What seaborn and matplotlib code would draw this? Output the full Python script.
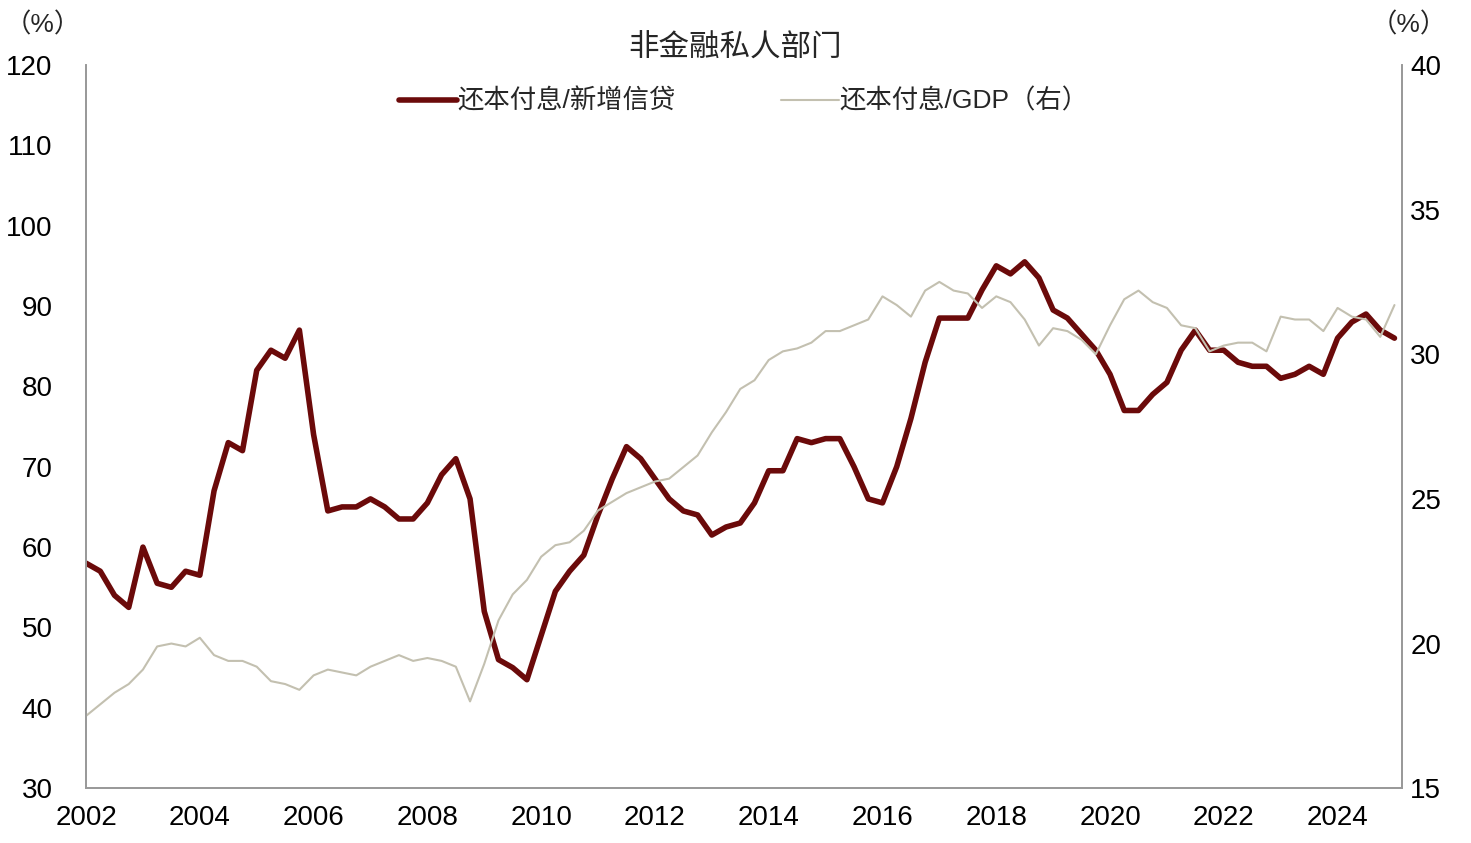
import matplotlib
matplotlib.use("Agg")
import matplotlib.pyplot as plt
import numpy as np
import seaborn as sns

sns.set_theme(style="white")
plt.rcParams['font.family'] = ['Liberation Sans', 'Noto Sans CJK SC']

# 季度数据
start_year = 2002.0
repay_credit = [58, 57, 54, 52.5, 60, 55.5, 55, 57, 56.5, 67, 73, 72, 82, 84.5, 83.5, 87,
                74, 64.5, 65, 65, 66, 65, 63.5, 63.5, 65.5, 69, 71, 66, 52, 46, 45, 43.5,
                49, 54.5, 57, 59, 64, 68.5, 72.5, 71, 68.5, 66, 64.5, 64, 61.5, 62.5, 63, 65.5,
                69.5, 69.5, 73.5, 73, 73.5, 73.5, 70, 66, 65.5, 70, 76, 83, 88.5, 88.5, 88.5, 92,
                95, 94, 95.5, 93.5, 89.5, 88.5, 86.5, 84.5, 81.5, 77, 77, 79, 80.5, 84.5, 87, 84.5,
                84.5, 83, 82.5, 82.5, 81, 81.5, 82.5, 81.5, 86, 88, 89, 87, 86]
repay_gdp = [17.5, 17.9, 18.3, 18.6, 19.1, 19.9, 20.0, 19.9, 20.2, 19.6, 19.4, 19.4, 19.2, 18.7, 18.6, 18.4,
             18.9, 19.1, 19.0, 18.9, 19.2, 19.4, 19.6, 19.4, 19.5, 19.4, 19.2, 18.0, 19.3, 20.8, 21.7, 22.2,
             23.0, 23.4, 23.5, 23.9, 24.6, 24.9, 25.2, 25.4, 25.6, 25.7, 26.1, 26.5, 27.3, 28.0, 28.8, 29.1,
             29.8, 30.1, 30.2, 30.4, 30.8, 30.8, 31.0, 31.2, 32.0, 31.7, 31.3, 32.2, 32.5, 32.2, 32.1, 31.6,
             32.0, 31.8, 31.2, 30.3, 30.9, 30.8, 30.5, 30.0, 31.0, 31.9, 32.2, 31.8, 31.6, 31.0, 30.9, 30.1,
             30.3, 30.4, 30.4, 30.1, 31.3, 31.2, 31.2, 30.8, 31.6, 31.3, 31.2, 30.6, 31.7]
t = start_year + np.arange(len(repay_credit)) * 0.25

fig = plt.figure(figsize=(14.71, 8.43), dpi=100)
ax = fig.add_axes([0.0585, 0.065, 0.8945, 0.858])
ax2 = ax.twinx()

sns.lineplot(x=t, y=repay_credit, ax=ax, color='#6b0a0a', linewidth=4, label='还本付息/新增信贷', legend=False)
sns.lineplot(x=t, y=repay_gdp, ax=ax2, color='#c3c0b0', linewidth=1.5, label='还本付息/GDP（右）', legend=False)
for line in ax.get_lines() + ax2.get_lines():
    line.set_solid_joinstyle('round')

ax.set_xlim(2002, 2025.13)
ax.set_ylim(30, 120)
ax2.set_ylim(15, 40)
ax.set_xticks(range(2002, 2025, 2))
ax.set_yticks(range(30, 121, 10))
ax2.set_yticks(range(15, 41, 5))
for a in (ax, ax2):
    a.tick_params(labelsize=20, length=0, labelcolor='black')
    a.grid(False)
    a.spines['top'].set_visible(False)
    for s in ['left', 'right', 'bottom']:
        a.spines[s].set_color('#999999')
ax.tick_params(axis='y', pad=24)
ax2.tick_params(axis='y', pad=6)
ax.tick_params(axis='x', direction='in', length=5, color='#999999', pad=12)

fig.text(0.003, 0.985, '（%）', fontsize=19, va='top')
fig.text(0.932, 0.985, '（%）', fontsize=19, va='top')
fig.text(0.5, 0.942, '非金融私人部门', fontsize=22, ha='center', va='center')

h1, l1 = ax.get_legend_handles_labels()
h2, l2 = ax2.get_legend_handles_labels()
ax.legend(h1 + h2, l1 + l2, loc='upper center', bbox_to_anchor=(0.5, 1.0), ncol=2, frameon=False,
          fontsize=19, handlelength=2.2, handletextpad=0, columnspacing=4)

fig.savefig('out.png', dpi=100)
